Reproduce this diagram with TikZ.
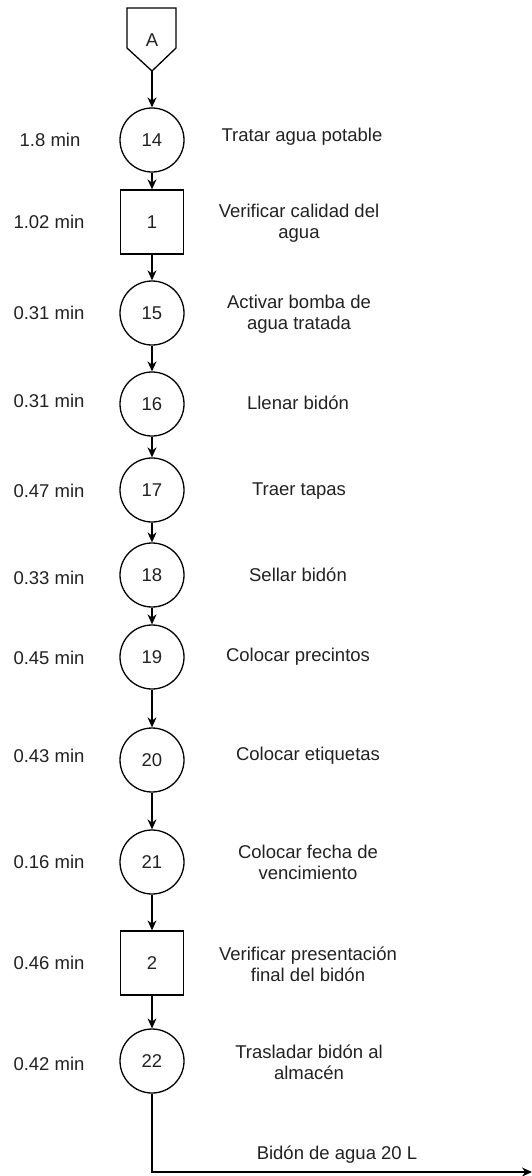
\documentclass[tikz,border=0pt]{standalone}
\usepackage{fontspec}
\setmainfont{Liberation Sans}
\usetikzlibrary{arrows.meta}
\newcommand\lblfont{\fontsize{18.5}{21}\selectfont}
\definecolor{txt}{HTML}{222222}
\begin{document}
\begin{tikzpicture}[x=1pt,y=-1pt,
  op/.style={circle,draw,line width=1.3pt,minimum size=64pt,inner sep=0pt,font=\lblfont,text=txt},
  insp/.style={rectangle,draw,line width=1.3pt,minimum width=63pt,minimum height=64pt,inner sep=0pt,font=\lblfont,text=txt},
  tlabel/.style={font=\lblfont,text=txt},
  desc/.style={font=\lblfont,text=txt,align=center},
  flow/.style={line width=1.3pt,-{Stealth[length=10pt,width=9pt]}}
]
\useasboundingbox[fill=white] (0,0) rectangle (532,1176);

% off-page connector A
\draw[line width=1.3pt,line join=miter] (127,8) -- (176,8) -- (176,48) -- (152,71) -- (127,48) -- cycle;
\node[tlabel] (A) at (152,40) {A};
\coordinate (Atip) at (152,71);

% process symbols
\node[op]   (n14) at (152,140)  {14};
\node[insp] (i1)  at (152,222)  {1};
\node[op]   (n15) at (152,313)  {15};
\node[op]   (n16) at (152,404)  {16};
\node[op]   (n17) at (152,490)  {17};
\node[op]   (n18) at (152,575)  {18};
\node[op]   (n19) at (152,657)  {19};
\node[op]   (n20) at (152,760)  {20};
\node[op]   (n21) at (152,862)  {21};
\node[insp] (i2)  at (152,963)  {2};
\node[op]   (n22) at (152,1061) {22};

% times
\node[tlabel] (t14) at (50,140)  {1.8 min};
\node[tlabel] (t1)  at (49,222)  {1.02 min};
\node[tlabel] (t15) at (49,313)  {0.31 min};
\node[tlabel] (t16) at (49,401)  {0.31 min};
\node[tlabel] (t17) at (49,491)  {0.47 min};
\node[tlabel] (t18) at (49,578)  {0.33 min};
\node[tlabel] (t19) at (49,658)  {0.45 min};
\node[tlabel] (t20) at (49,756)  {0.43 min};
\node[tlabel] (t21) at (49,862)  {0.16 min};
\node[tlabel] (t2)  at (49,963)  {0.46 min};
\node[tlabel] (t22) at (49,1064) {0.42 min};

% descriptions
\node[desc] (d14) at (302,137)  {Tratar agua potable};
\node[desc] (d1)  at (299,223)  {Verificar calidad del\\agua};
\node[desc] (d15) at (299,314)  {Activar bomba de\\agua tratada};
\node[desc] (d16) at (298,403)  {Llenar bidón};
\node[desc] (d17) at (299,491)  {Traer tapas};
\node[desc] (d18) at (298,575)  {Sellar bidón};
\node[desc] (d19) at (298,657)  {Colocar precintos};
\node[desc] (d20) at (308,756)  {Colocar etiquetas};
\node[desc] (d21) at (308,862)  {Colocar fecha de\\vencimiento};
\node[desc] (d2)  at (308,964)  {Verificar presentación\\final del bidón};
\node[desc] (d22) at (309,1062) {Trasladar bidón al\\almacén};

% flow connectors
\draw[flow] (Atip) -- (n14);
\draw[flow] (n14) -- (i1);
\draw[flow] (i1) -- (n15);
\draw[flow] (n15) -- (n16);
\draw[flow] (n16) -- (n17);
\draw[flow] (n17) -- (n18);
\draw[flow] (n18) -- (n19);
\draw[flow] (n19) -- (n20);
\draw[flow] (n20) -- (n21);
\draw[flow] (n21) -- (i2);
\draw[flow] (i2) -- (n22);

% product output
\coordinate (corner) at (152,1172);
\coordinate (out) at (532,1172);
\draw[flow] (n22) -- (corner) -- (out);
\node[desc] (prod) at (337,1155) {Bidón de agua 20 L};
\end{tikzpicture}
\end{document}
